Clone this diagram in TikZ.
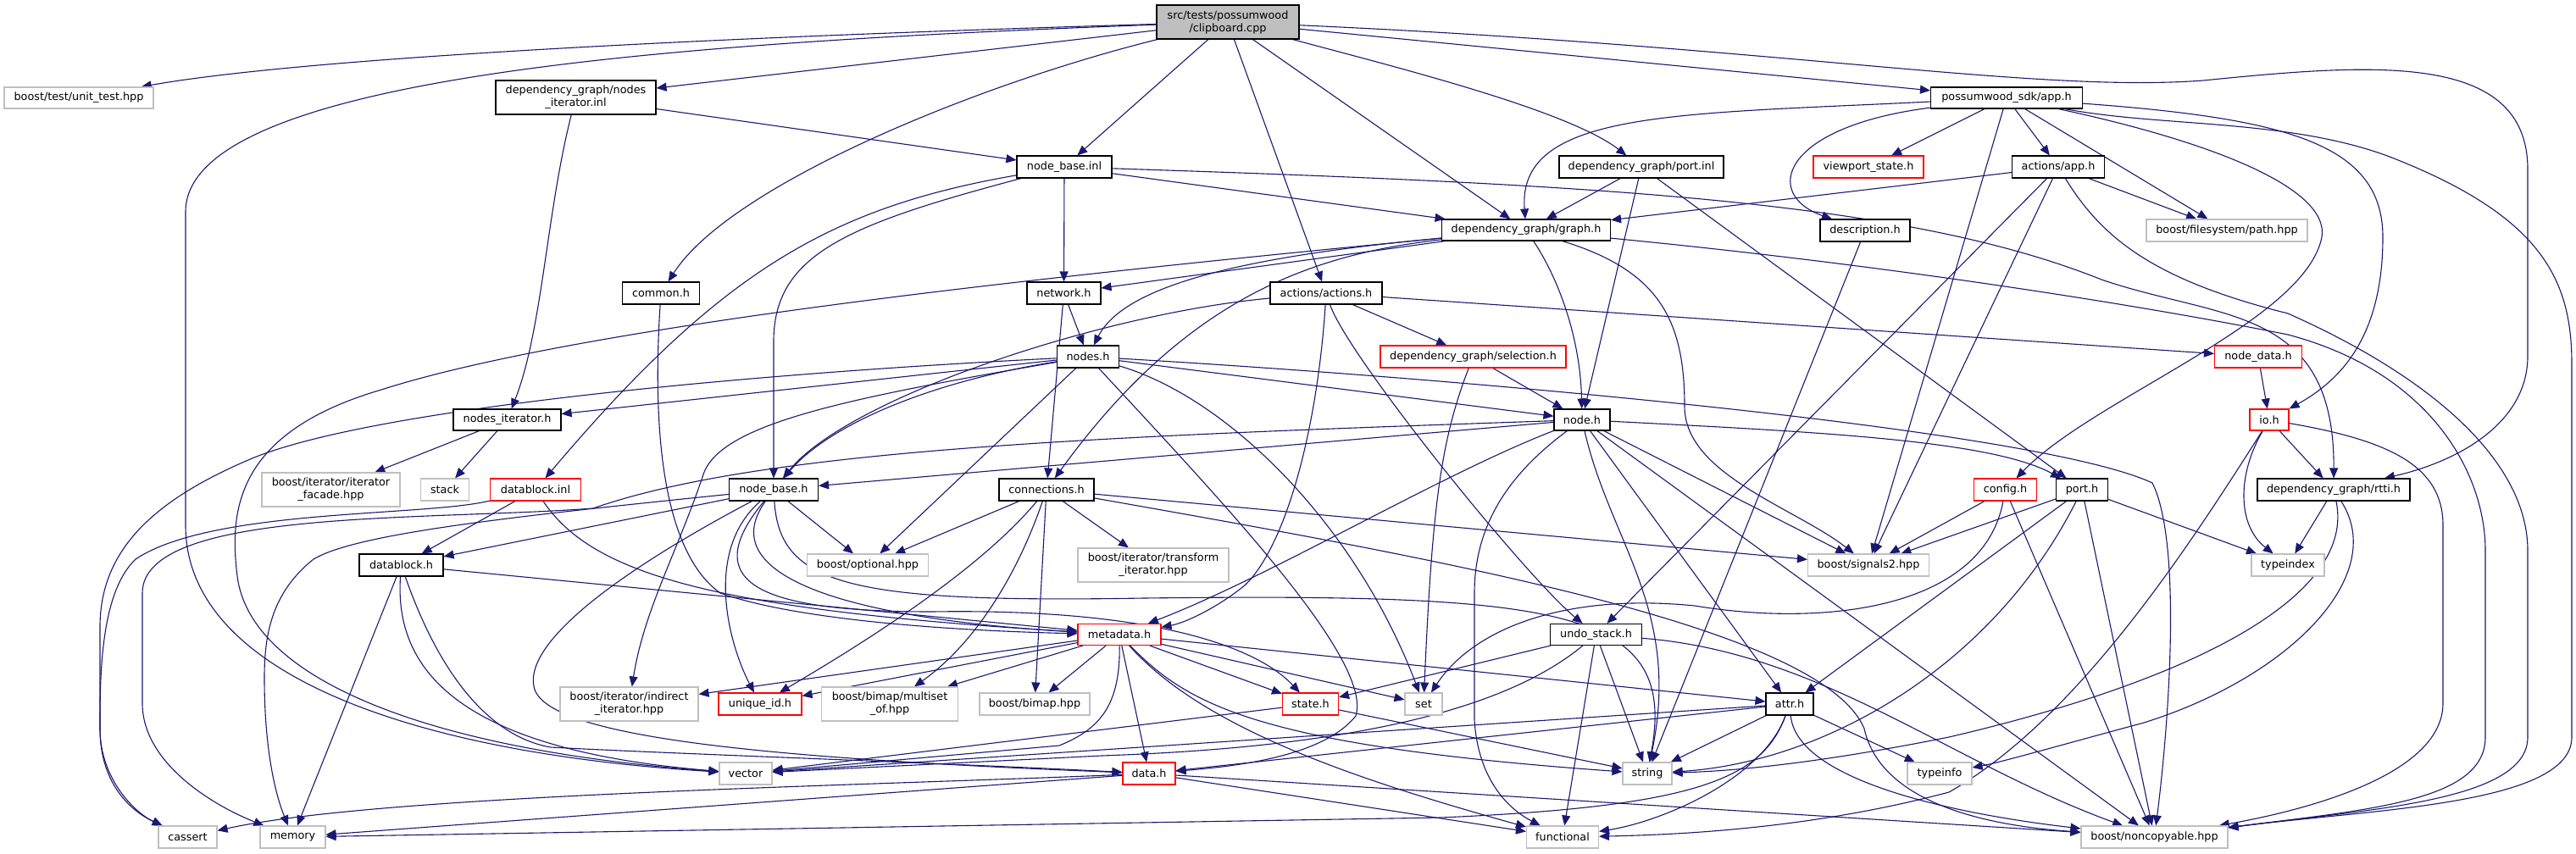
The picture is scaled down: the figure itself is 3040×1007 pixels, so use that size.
\documentclass[tikz,border=0pt]{standalone}
\usepackage{fontspec}
\setmainfont{DejaVu Sans}
\usetikzlibrary{arrows.meta,backgrounds}
\definecolor{edgeblue}{HTML}{191970}
\definecolor{lgray}{HTML}{BFBFBF}
\definecolor{rootfill}{HTML}{BFBFBF}
\definecolor{trunc}{HTML}{FF0000}
\newcommand\bx[7]{\node[#1,minimum width=#5*0.5pt,minimum height=#6*0.5pt] (#2) at (#3,#4) {#7};}
\begin{document}
\begin{tikzpicture}[x=0.5pt,y=-0.5pt,
  nb/.style={draw=black,fill=white,line width=0.55pt,rectangle,inner sep=0pt,align=center,font=\fontsize{6.4}{7.5}\selectfont},
  ng/.style={nb,draw=lgray},
  nr/.style={nb,draw=trunc},
  nroot/.style={nb,fill=rootfill},
  ed/.style={draw=edgeblue,line width=0.55pt,-{Triangle[length=6pt,width=5pt]}}]
\useasboundingbox (0,0) rectangle (3040,1007);
% nodes
\bx{nroot}{C}{1449}{26}{168}{40}{src/tests/possumwood\\/clipboard.cpp}
\bx{ng}{UT}{93}{115.5}{176}{25}{boost/test/unit\_test.hpp}
\bx{nb}{NII}{679.5}{115}{189}{40}{dependency\_graph/nodes\\\_iterator.inl}
\bx{nb}{NBI}{1256}{197}{112}{26}{node\_base.inl}
\bx{nb}{PI}{1937}{197}{194}{26}{dependency\_graph/port.inl}
\bx{nb}{APP}{2368}{115.5}{179}{25}{possumwood\_sdk/app.h}
\bx{nr}{VS}{2205}{197}{130}{26}{viewport\_state.h}
\bx{nb}{AAPP}{2429}{197}{109}{26}{actions/app.h}
\bx{nb}{DESC}{2201}{272}{106}{26}{description.h}
\bx{ng}{PATH}{2628}{272}{190}{26}{boost/filesystem/path.hpp}
\bx{nb}{G}{1801}{271.5}{199}{25}{dependency\_graph/graph.h}
\bx{nb}{COM}{780}{346}{91}{26}{common.h}
\bx{nb}{NET}{1255.5}{346}{87}{26}{network.h}
\bx{nb}{ACT}{1565}{346}{132}{26}{actions/actions.h}
\bx{nb}{NS}{1284}{421}{73}{26}{nodes.h}
\bx{nr}{SEL}{1738.5}{421}{219}{26}{dependency\_graph/selection.h}
\bx{nr}{ND}{2665}{421}{103}{26}{node\_data.h}
\bx{nb}{NIH}{598.5}{495.5}{127}{25}{nodes\_iterator.h}
\bx{nb}{N}{1867}{495.5}{66}{25}{node.h}
\bx{nr}{IO}{2678}{495.5}{46}{25}{io.h}
\bx{ng}{IF}{390.5}{578}{163}{40}{boost/iterator/iterator\\\_facade.hpp}
\bx{ng}{STK}{525}{578}{57}{26}{stack}
\bx{nr}{DBI}{632}{578}{107}{26}{datablock.inl}
\bx{nb}{NB}{913}{578}{105}{26}{node\_base.h}
\bx{nb}{CON}{1235}{578}{112}{26}{connections.h}
\bx{nr}{CFG}{2366.5}{578}{74}{26}{config.h}
\bx{nb}{P}{2457}{578}{61}{26}{port.h}
\bx{nb}{RT}{2754}{578}{180}{26}{dependency\_graph/rtti.h}
\bx{nb}{DB}{473.5}{667}{99}{26}{datablock.h}
\bx{ng}{OPT}{1024}{667}{143}{26}{boost/optional.hpp}
\bx{ng}{TI}{1361}{667}{178}{40}{boost/iterator/transform\\\_iterator.hpp}
\bx{ng}{SIG}{2205}{667}{143}{26}{boost/signals2.hpp}
\bx{ng}{TIX}{2700}{667}{86}{26}{typeindex}
\bx{nr}{MD}{1321}{749}{98}{25}{metadata.h}
\bx{nb}{U}{1883.5}{749}{108}{25}{undo\_stack.h}
\bx{ng}{II}{742.5}{831}{163}{40}{boost/iterator/indirect\\\_iterator.hpp}
\bx{nr}{UID}{897}{831}{98}{26}{unique\_id.h}
\bx{ng}{MS}{1050}{831}{161}{40}{boost/bimap/multiset\\\_of.hpp}
\bx{ng}{BM}{1221}{831}{130}{26}{boost/bimap.hpp}
\bx{nr}{ST}{1546.5}{831}{66}{26}{state.h}
\bx{ng}{SET}{1680}{831}{44}{26}{set}
\bx{nb}{A}{2112}{831}{56}{26}{attr.h}
\bx{ng}{VEC}{880}{913}{62}{26}{vector}
\bx{nr}{D}{1356}{913}{62}{26}{data.h}
\bx{ng}{STR}{1944}{913}{58}{26}{string}
\bx{ng}{TINF}{2289}{913}{76}{26}{typeinfo}
\bx{ng}{CA}{221.5}{988}{69}{26}{cassert}
\bx{ng}{MEM}{345.5}{988}{77}{26}{memory}
\bx{ng}{FN}{1844}{988}{85}{26}{functional}
\bx{ng}{NC}{2542.5}{988}{173}{26}{boost/noncopyable.hpp}
\begin{pgfonlayer}{background}
\fill[white] (0,0) rectangle (3040,1007);
% clipboard.cpp
\draw[ed] (C) .. controls (800,45) and (350,70) .. (UT);
\draw[ed] (C) -- (NII);
\draw[ed] (C) .. controls (800,50) and (219,90) .. (219,250) -- (219,620) .. controls (219,800) and (500,890) .. (VEC);
\draw[ed] (C) .. controls (1150,100) and (860,220) .. (COM);
\draw[ed] (C) -- (NBI);
\draw[ed] (C) -- (ACT);
\draw[ed] (C) -- (G);
\draw[ed] (C) .. controls (1650,80) and (1850,130) .. (PI);
\draw[ed] (C) -- (APP);
\draw[ed] (C) .. controls (2100,55) and (2400,110) .. (2600,95) .. controls (2800,75) and (2983,60) .. (2983,200) -- (2983,420) .. controls (2983,500) and (2900,545) .. (RT);
% nodes_iterator.inl
\draw[ed] (NII) -- (NBI);
\draw[ed] (NII) .. controls (645,250) and (640,390) .. (NIH);
% node_base.inl
\draw[ed] (NBI) -- (G);
\draw[ed] (NBI) -- (NET);
\draw[ed] (NBI) .. controls (1000,265) and (915,300) .. (913,400) -- (NB);
\draw[ed] (NBI) .. controls (980,245) and (850,320) .. (DBI);
\draw[ed] (NBI) .. controls (1900,218) and (2250,238) .. (2480,330) .. controls (2620,378) and (2755,360) .. (RT);
% port.inl
\draw[ed] (PI) -- (G);
\draw[ed] (PI) -- (N);
\draw[ed] (PI) -- (P);
% possumwood_sdk/app.h
\draw[ed] (APP) .. controls (1980,135) and (1790,130) .. (G);
\draw[ed] (APP) -- (VS);
\draw[ed] (APP) -- (AAPP);
\draw[ed] (APP) .. controls (2100,150) and (2080,230) .. (DESC);
\draw[ed] (APP) -- (PATH);
\draw[ed] (APP) .. controls (2700,140) and (2812,170) .. (2812,280) .. controls (2812,400) and (2760,450) .. (IO);
\draw[ed] (APP) .. controls (2550,150) and (2700,140) .. (2820,185) .. controls (3000,255) and (3035,330) .. (3035,430) -- (3035,870) .. controls (3035,950) and (2800,955) .. (NC);
\draw[ed] (APP) .. controls (2600,165) and (2750,220) .. (2740,280) .. controls (2720,380) and (2470,470) .. (CFG);
\draw[ed] (APP) -- (SIG);
% actions/app.h
\draw[ed] (AAPP) -- (G);
\draw[ed] (AAPP) -- (PATH);
\draw[ed] (AAPP) -- (U);
\draw[ed] (AAPP) -- (SIG);
\draw[ed] (AAPP) .. controls (2480,280) and (2540,330) .. (2700,370) .. controls (2880,450) and (2983,550) .. (2983,650) -- (2983,870) .. controls (2983,945) and (2800,955) .. (NC);
% description.h
\draw[ed] (DESC) -- (STR);
% graph.h
\draw[ed] (G) -- (NET);
\draw[ed] (G) .. controls (1500,300) and (1330,330) .. (NS);
\draw[ed] (G) .. controls (1550,300) and (1400,350) .. (CON);
\draw[ed] (G) .. controls (1840,330) and (1865,400) .. (N);
\draw[ed] (G) .. controls (1960,320) and (1988,380) .. (1988,480) .. controls (1988,560) and (2120,600) .. (SIG);
\draw[ed] (G) .. controls (1300,320) and (700,380) .. (450,460) .. controls (280,510) and (270,600) .. (280,680) .. controls (295,800) and (500,885) .. (VEC);
\draw[ed] (G) .. controls (2200,310) and (2500,355) .. (2700,395) .. controls (2870,440) and (2933,560) .. (2933,650) -- (2933,870) .. controls (2933,945) and (2800,955) .. (NC);
% network.h
\draw[ed] (NET) -- (NS);
\draw[ed] (NET) -- (CON);
% actions/actions.h
\draw[ed] (ACT) -- (SEL);
\draw[ed] (ACT) -- (ND);
\draw[ed] (ACT) .. controls (1300,370) and (1000,470) .. (NB);
\draw[ed] (ACT) .. controls (1555,500) and (1520,640) .. (1470,690) .. controls (1440,715) and (1400,735) .. (MD);
\draw[ed] (ACT) .. controls (1590,420) and (1800,680) .. (U);
% selection.h
\draw[ed] (SEL) -- (N);
\draw[ed] (SEL) .. controls (1700,520) and (1690,600) .. (SET);
% nodes.h
\draw[ed] (NS) -- (NIH);
\draw[ed] (NS) .. controls (1100,450) and (980,500) .. (NB);
\draw[ed] (NS) -- (N);
\draw[ed] (NS) -- (OPT);
\draw[ed] (NS) .. controls (1450,470) and (1600,620) .. (SET);
\draw[ed] (NS) .. controls (1450,600) and (1620,780) .. (1600,845) .. controls (1560,895) and (1450,905) .. (D);
\draw[ed] (NS) .. controls (1700,445) and (2400,505) .. (2540,570) .. controls (2575,640) and (2560,850) .. (NC);
\draw[ed] (NS) .. controls (900,440) and (450,480) .. (300,540) .. controls (180,590) and (118,650) .. (118,740) -- (118,860) .. controls (118,920) and (160,960) .. (CA);
\draw[ed] (NS) .. controls (1000,470) and (850,500) .. (830,560) .. controls (800,650) and (760,720) .. (II);
% node.h
\draw[ed] (N) -- (NB);
\draw[ed] (N) .. controls (1300,515) and (900,530) .. (700,600) .. controls (500,615) and (168,600) .. (168,700) -- (168,830) .. controls (168,900) and (250,950) .. (MEM);
\draw[ed] (N) .. controls (2150,510) and (2350,520) .. (P);
\draw[ed] (N) .. controls (1700,560) and (1500,680) .. (MD);
\draw[ed] (N) -- (SIG);
\draw[ed] (N) -- (A);
\draw[ed] (N) .. controls (1780,560) and (1740,620) .. (1740,700) -- (1740,850) .. controls (1745,930) and (1790,960) .. (FN);
\draw[ed] (N) -- (NC);
\draw[ed] (N) .. controls (1900,640) and (1985,720) .. (STR);
% connections.h
\draw[ed] (CON) -- (OPT);
\draw[ed] (CON) -- (TI);
\draw[ed] (CON) .. controls (1150,680) and (1000,770) .. (UID);
\draw[ed] (CON) .. controls (1200,680) and (1150,760) .. (MS);
\draw[ed] (CON) -- (BM);
\draw[ed] (CON) -- (SIG);
\draw[ed] (CON) .. controls (1700,660) and (2150,740) .. (2200,860) .. controls (2220,950) and (2350,975) .. (NC);
% datablock.inl
\draw[ed] (DBI) -- (DB);
\draw[ed] (DBI) .. controls (700,680) and (850,720) .. (MD);
\draw[ed] (DBI) .. controls (500,610) and (250,600) .. (160,660) .. controls (118,700) and (118,800) .. (118,860) .. controls (118,930) and (160,960) .. (CA);
% datablock.h
\draw[ed] (DB) .. controls (465,790) and (540,885) .. (VEC);
\draw[ed] (DB) -- (MEM);
\draw[ed] (DB) -- (MD);
\draw[ed] (DB) .. controls (520,800) and (580,870) .. (650,882) .. controls (800,890) and (1100,900) .. (D);
% node_base.h
\draw[ed] (NB) -- (DB);
\draw[ed] (NB) -- (OPT);
\draw[ed] (NB) .. controls (840,680) and (1000,730) .. (MD);
\draw[ed] (NB) .. controls (830,650) and (860,760) .. (UID);
\draw[ed] (NB) .. controls (600,610) and (420,630) .. (370,660) .. controls (320,700) and (312,750) .. (312,800) .. controls (312,900) and (330,950) .. (MEM);
\draw[ed] (NB) .. controls (720,680) and (620,760) .. (630,810) .. controls (640,870) and (900,895) .. (D);
\draw[ed] (NB) .. controls (820,690) and (900,722) .. (1100,722) .. controls (1350,718) and (1480,760) .. (ST);
\draw[ed] (NB) .. controls (920,690) and (1000,712) .. (1350,706) .. controls (1850,700) and (1980,720) .. (STR);
% common.h
\draw[ed] (COM) .. controls (770,500) and (780,650) .. (850,700) .. controls (950,735) and (1150,745) .. (MD);
% metadata.h
\draw[ed] (MD) -- (II);
\draw[ed] (MD) -- (UID);
\draw[ed] (MD) -- (MS);
\draw[ed] (MD) -- (BM);
\draw[ed] (MD) -- (ST);
\draw[ed] (MD) -- (SET);
\draw[ed] (MD) -- (A);
\draw[ed] (MD) -- (D);
\draw[ed] (MD) .. controls (1400,830) and (1480,880) .. (STR);
\draw[ed] (MD) .. controls (1420,860) and (1600,920) .. (FN);
\draw[ed] (MD) .. controls (1322,830) and (1300,860) .. (1250,880) -- (VEC);
% undo_stack.h
\draw[ed] (U) -- (ST);
\draw[ed] (U) .. controls (1750,860) and (1500,885) .. (1300,892) -- (VEC);
\draw[ed] (U) -- (STR);
\draw[ed] (U) -- (FN);
\draw[ed] (U) .. controls (2150,770) and (2300,900) .. (NC);
% state.h
\draw[ed] (ST) -- (VEC);
\draw[ed] (ST) -- (STR);
% attr.h
\draw[ed] (A) -- (D);
\draw[ed] (A) -- (STR);
\draw[ed] (A) .. controls (2080,920) and (1960,970) .. (FN);
\draw[ed] (A) -- (TINF);
\draw[ed] (A) .. controls (2120,920) and (2300,960) .. (NC);
\draw[ed] (A) -- (VEC);
\draw[ed] (A) .. controls (2080,920) and (2000,952) .. (1700,965) -- (MEM);
% data.h
\draw[ed] (D) .. controls (1000,928) and (450,938) .. (CA);
\draw[ed] (D) -- (MEM);
\draw[ed] (D) -- (FN);
\draw[ed] (D) -- (NC);
% config.h
\draw[ed] (CFG) -- (SIG);
\draw[ed] (CFG) .. controls (2340,720) and (2150,740) .. (2000,715) .. controls (1850,700) and (1740,740) .. (SET);
\draw[ed] (CFG) -- (NC);
% port.h
\draw[ed] (P) -- (SIG);
\draw[ed] (P) -- (A);
\draw[ed] (P) .. controls (2350,790) and (2150,900) .. (STR);
\draw[ed] (P) -- (NC);
\draw[ed] (P) -- (TIX);
% io.h
\draw[ed] (IO) -- (RT);
\draw[ed] (IO) .. controls (2640,560) and (2640,620) .. (TIX);
\draw[ed] (IO) .. controls (2580,650) and (2450,850) .. (2300,935) .. controls (2150,975) and (2000,985) .. (FN);
\draw[ed] (IO) .. controls (2820,520) and (2883,550) .. (2883,620) -- (2883,830) .. controls (2883,920) and (2700,960) .. (NC);
% rtti.h
\draw[ed] (RT) -- (TIX);
\draw[ed] (RT) .. controls (2780,700) and (2600,800) .. (2300,870) .. controls (2150,900) and (2050,910) .. (STR);
\draw[ed] (RT) .. controls (2820,680) and (2700,800) .. (2530,853) .. controls (2430,880) and (2360,900) .. (TINF);
% misc
\draw[ed] (ND) -- (IO);
\draw[ed] (NIH) -- (IF);
\draw[ed] (NIH) -- (STK);
\end{pgfonlayer}
\end{tikzpicture}
\end{document}
